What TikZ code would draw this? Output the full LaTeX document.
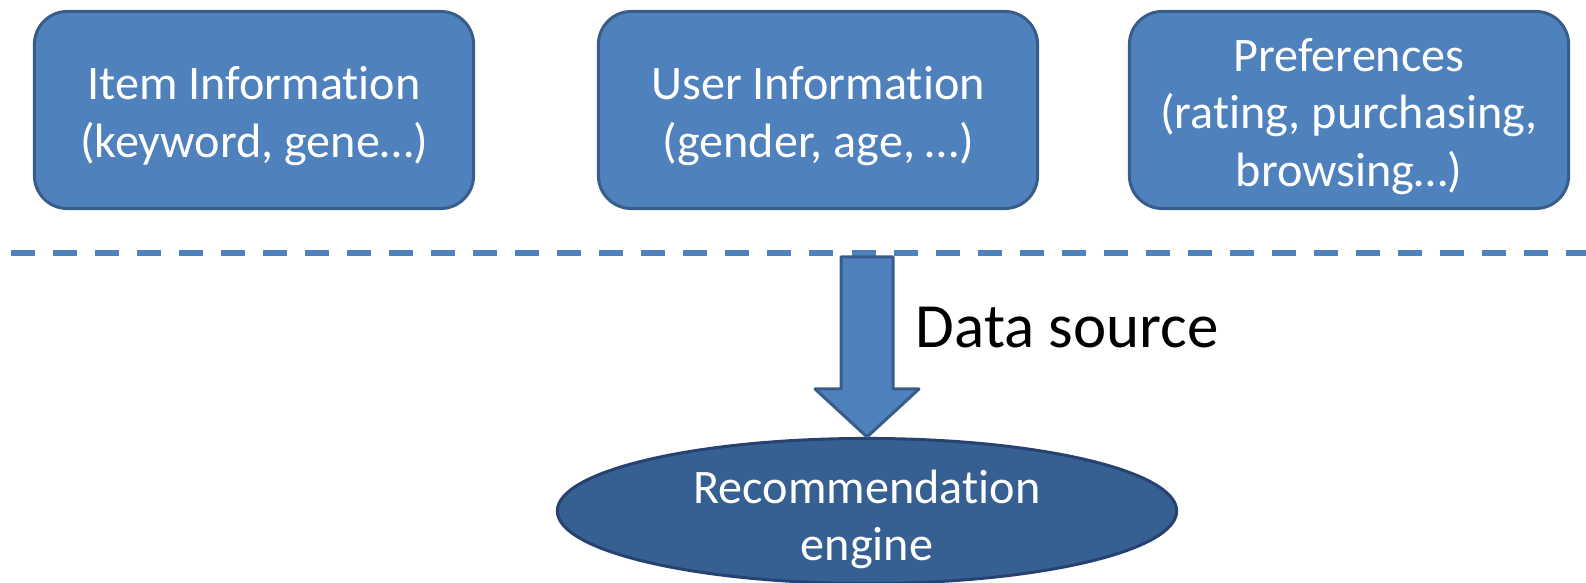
\documentclass[tikz,border=0pt]{standalone}
\usepackage{fontspec}
\setmainfont{Carlito}[Ligatures=NoCommon]
\usetikzlibrary{shapes.geometric}
\definecolor{boxfill}{RGB}{79,129,189}
\definecolor{boxline}{RGB}{56,93,138}
\definecolor{enginefill}{RGB}{55,96,146}
\definecolor{engineline}{RGB}{37,66,112}
\newcommand{\toplift}[1]{\rule{0pt}{#1}}
\tikzset{
  infobox/.style={draw=boxline, fill=boxfill, line width=0.03cm,
    rounded corners=0.33cm, minimum width=4.39cm, minimum height=1.97cm,
    inner sep=0pt, align=center, text=white,
    font=\fontsize{13.7}{16.4}\selectfont},
  enginebox/.style={ellipse, draw=engineline, fill=enginefill,
    line width=0.03cm, minimum width=6.19cm, minimum height=1.45cm,
    inner xsep=0pt, inner ysep=-9pt, align=center, text=white,
    font=\fontsize{13.7}{16.4}\selectfont},
  sepline/.style={boxfill, line width=0.06cm, dash pattern=on 0.24cm off 0.18cm},
  bigarrow/.style={draw=boxline, fill=boxfill, line width=0.03cm},
  srclabel/.style={inner sep=0pt, font=\fontsize{17.9}{21}\selectfont}
}
\begin{document}
\begin{tikzpicture}[x=0.01cm, y=-0.01cm, line join=round]
  \useasboundingbox (0,0) rectangle (1586,583);
  % data boxes
  \node[infobox] (item) at (254,110) {\toplift{0.95em}Item Information\\(keyword, gene…)};
  \node[infobox] (user) at (818,110) {\toplift{0.95em}User Information\\(gender, age, …)};
  \node[infobox] (pref) at (1349,110) {\toplift{0.95em}Preferences\\(rating, purchasing,\\browsing…)};
  \draw[sepline] (11,253) -- (1586,253);
  % engine
  \node[enginebox] (engine) at (867,511) {\toplift{1.05em}Recommendation\\engine};
  \filldraw[bigarrow] (engine.north) -- ++(-52,-48) -- ++(26,0) -- ++(0,-132)
    -- ++(52,0) -- ++(0,132) -- ++(26,0) -- cycle;
  \node[srclabel, anchor=base west] (src) at (915,348) {Data source};
\end{tikzpicture}
\end{document}
